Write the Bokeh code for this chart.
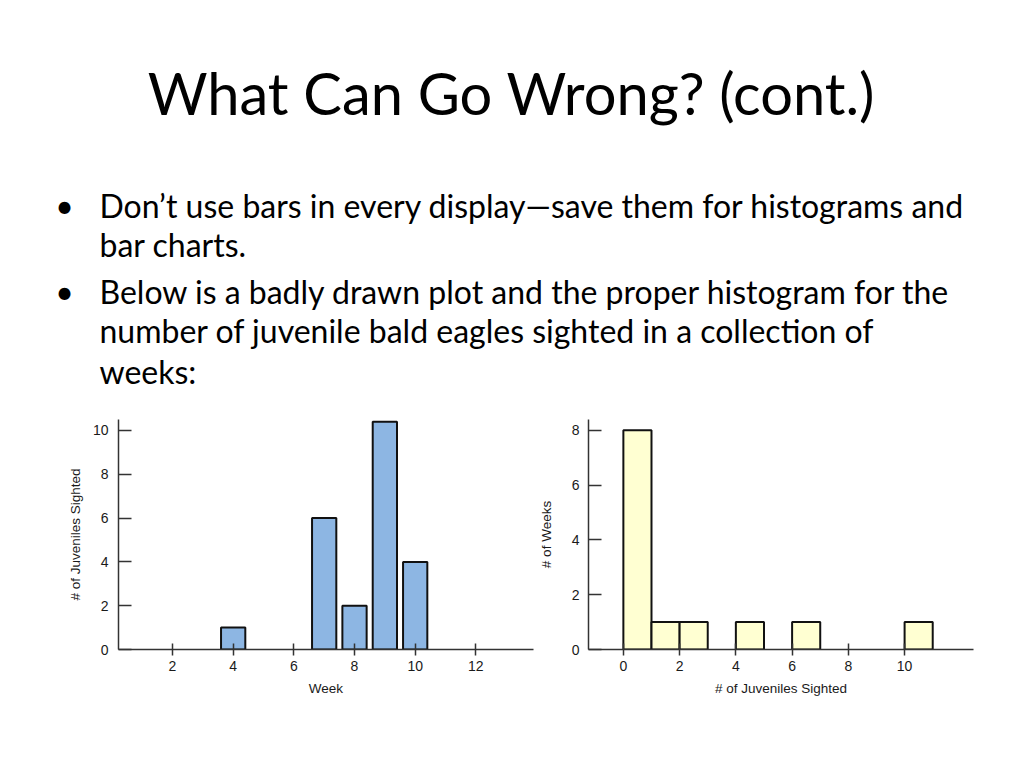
from bokeh.plotting import figure
from bokeh.models import Range1d, FixedTicker
from bokeh.layouts import column, row
from bokeh.embed import file_html
from bokeh.resources import INLINE
from bokeh.core.properties import value

# ---------------- data ----------------
title_text = "What Can Go Wrong? (cont.)"
bullet_lines = [
    "Don\u2019t use bars in every display\u2014save them for histograms and",
    "bar charts.",
    "Below is a badly drawn plot and the proper histogram for the",
    "number of juvenile bald eagles sighted in a collection of",
    "weeks:",
]
bullet_flags = [True, False, True, False, False]

weeks = [4, 7, 8, 9, 10]
juveniles = [1, 6, 2, 10.4, 4]
left_xticks = [2, 4, 6, 8, 10, 12]
left_yticks = [0, 2, 4, 6, 8, 10]

bin_left = [0, 1, 2, 4, 6, 10]
bin_right = [1, 2, 3, 5, 7, 11]
num_weeks = [8, 1, 1, 1, 1, 1]
right_xticks = [0, 2, 4, 6, 8, 10]
right_yticks = [0, 2, 4, 6, 8]

TEXT_FONT = "Lato"
CHART_FONT = "Liberation Sans"
TITLE_SIZE = 57.8
BODY_SIZE = 32
BASE_SHIFT = 0.41  # observed baseline offset of rendered text, in em

# ---------------- header (title + bullets) ----------------
HEAD_H = 400
head = figure(width=1008, height=HEAD_H, output_backend="svg", toolbar_location=None,
              x_range=Range1d(0, 1008), y_range=Range1d(HEAD_H, 0),
              min_border=0, outline_line_color=None)
head.axis.visible = False
head.grid.visible = False

head.text(x=[511], y=[116 - BASE_SHIFT * TITLE_SIZE], text=[title_text],
          text_font=value(TEXT_FONT), text_font_size=f"{TITLE_SIZE}px",
          text_align="center", text_baseline="alphabetic", text_color="black")

baselines = [217.7, 257.3, 304, 343, 384]
ys = [b - BASE_SHIFT * BODY_SIZE for b in baselines]
head.text(x=[99] * len(bullet_lines), y=ys, text=bullet_lines,
          text_font=value(TEXT_FONT), text_font_size=f"{BODY_SIZE}px", text_align="left",
          text_baseline="alphabetic", text_color="black")
bx = [64 for f in bullet_flags if f]
by = [b for b, f in zip(ys, bullet_flags) if f]
head.text(x=bx, y=by, text=["\u2022"] * len(bx), text_font=value(TEXT_FONT),
          text_font_size=f"{BODY_SIZE}px", text_align="center", text_baseline="alphabetic",
          text_color="black")


def style_axes(p, xticks, yticks, xlabel, ylabel, y_label_standoff, y_tick_standoff):
    p.grid.visible = False
    p.outline_line_color = None
    p.xaxis.ticker = FixedTicker(ticks=xticks)
    p.yaxis.ticker = FixedTicker(ticks=yticks)
    p.xaxis.minor_tick_line_color = None
    p.yaxis.minor_tick_line_color = None
    for ax in (p.xaxis[0], p.yaxis[0]):
        ax.axis_line_color = "#333333"
        ax.axis_line_width = 1.5
        ax.major_tick_line_color = "#333333"
        ax.major_tick_line_width = 1.5
        ax.major_label_text_font = CHART_FONT
        ax.major_label_text_font_size = "14px"
        ax.major_label_text_color = "#1a1a1a"
        ax.axis_label_text_font = CHART_FONT
        ax.axis_label_text_font_size = "13.5px"
        ax.axis_label_text_font_style = "normal"
        ax.axis_label_text_color = "#1a1a1a"
    p.xaxis.major_tick_in = 6
    p.xaxis.major_tick_out = 6
    p.xaxis.major_label_standoff = 5
    p.xaxis.axis_label_standoff = 7
    p.yaxis.major_tick_in = 13
    p.yaxis.major_tick_out = 0
    p.yaxis.major_label_standoff = y_tick_standoff
    p.yaxis.axis_label_standoff = y_label_standoff
    p.xaxis.axis_label = xlabel
    p.yaxis.axis_label = ylabel


# ---------------- left chart (badly drawn) ----------------
left = figure(width=535, height=310, output_backend="svg", toolbar_location=None,
              x_range=Range1d(0.22, 13.9), y_range=Range1d(0, 10.5),
              min_border_left=118, min_border_right=2, min_border_top=19,
              min_border_bottom=59)
left.vbar(x=weeks, top=juveniles, bottom=0, width=0.8, fill_color="#8DB6E3",
          line_color="#111111", line_width=2)
style_axes(left, left_xticks, left_yticks, "Week", "# of Juveniles Sighted", 7, 10)

# ---------------- right chart (histogram) ----------------
right = figure(width=473, height=310, output_backend="svg", toolbar_location=None,
               x_range=Range1d(-1.24, 12.45), y_range=Range1d(0, 8.39),
               min_border_left=52, min_border_right=35, min_border_top=12,
               min_border_bottom=61)
right.quad(left=bin_left, right=bin_right, top=num_weeks, bottom=0,
           fill_color="#FFFFD2", line_color="#111111", line_width=2)
style_axes(right, right_xticks, right_yticks, "# of Juveniles Sighted", "# of Weeks", 15, 9)

layout = column(head, row(left, right))
open("out.html", "w").write(file_html(layout, INLINE))
